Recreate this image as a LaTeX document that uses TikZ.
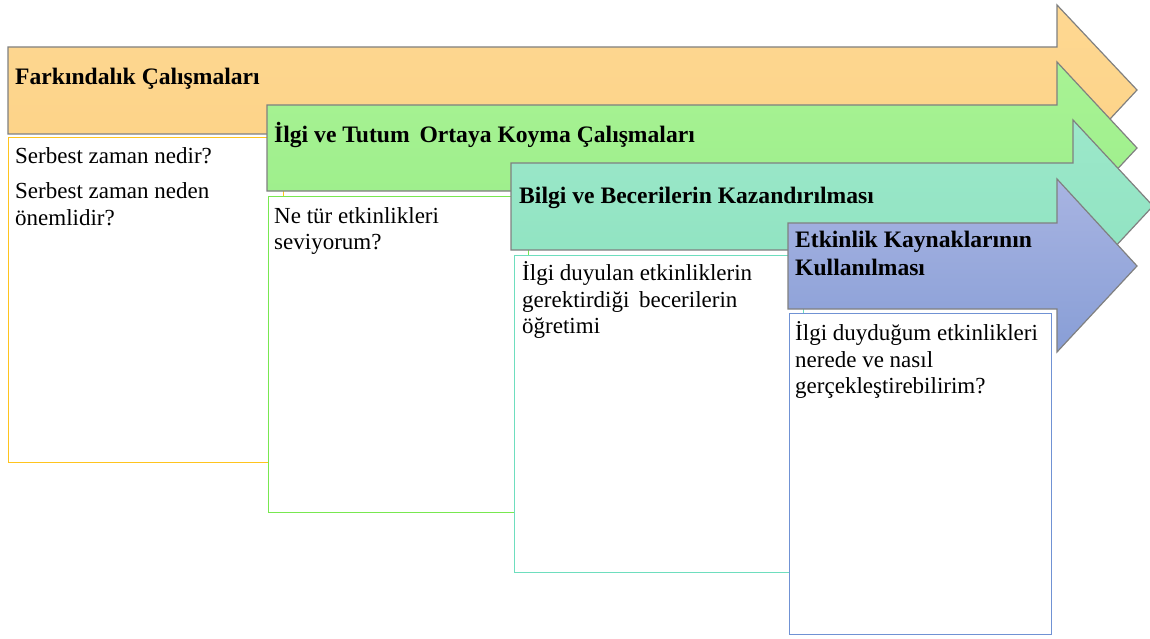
\documentclass[tikz,border=0pt]{standalone}
\usepackage{fontspec}
\setmainfont{Liberation Serif}
\begin{document}
\begin{tikzpicture}[x=1pt,y=-1pt,
  arrowshape/.style={draw=black!50, line width=1.2pt, line join=miter},
  infobox/.style={fill=white, line width=1pt},
  title/.style={anchor=base west, inner sep=0pt, font=\fontsize{23.6}{28}\selectfont\bfseries},
  body/.style={anchor=base west, inner sep=0pt, font=\fontsize{23}{27}\selectfont}]
\useasboundingbox (0,0) rectangle (1150,639);
\definecolor{orA}{RGB}{254,216,146}
\definecolor{orB}{RGB}{252,210,134}
\definecolor{grA}{RGB}{168,243,148}
\definecolor{grB}{RGB}{156,238,138}
\definecolor{tlA}{RGB}{156,232,202}
\definecolor{tlB}{RGB}{142,226,192}
\definecolor{blA}{RGB}{168,180,226}
\definecolor{blB}{RGB}{136,158,214}
\definecolor{bxOr}{RGB}{255,196,30}
\definecolor{bxGr}{RGB}{120,232,80}
\definecolor{bxTl}{RGB}{110,222,190}
\definecolor{bxBl}{RGB}{112,146,212}
% arrow 1
\shade[arrowshape, top color=orA, bottom color=orB]
  (8,47) -- (1057,47) -- (1057,5) -- (1137,90) -- (1057,176) -- (1057,134) -- (8,134) -- cycle;
\node[title] (t1) at (15,85) {Farkındalık Çalışmaları};
\draw[infobox, draw=bxOr] (8,138) rectangle (283,462);
\node[body] (b1a) at (15,164) {Serbest zaman nedir?};
\node[body] (b1b) at (15,198) {Serbest zaman neden};
\node[body] (b1c) at (15,225) {önemlidir?};
% arrow 2
\shade[arrowshape, top color=grA, bottom color=grB]
  (267,105) -- (1057,105) -- (1057,62) -- (1137,148) -- (1057,234) -- (1057,191) -- (267,191) -- cycle;
\node[title] (t2) at (274,143) {İlgi ve Tutum\, Ortaya Koyma Çalışmaları};
\draw[infobox, draw=bxGr] (268,196) rectangle (528,512);
\node[body] (b2a) at (274,223) {Ne tür etkinlikleri};
\node[body] (b2b) at (274,249) {seviyorum?};
% arrow 3
\shade[arrowshape, top color=tlA, bottom color=tlB]
  (511,163) -- (1073,163) -- (1073,120) -- (1153,206) -- (1073,292) -- (1073,250) -- (511,250) -- cycle;
\node[title] (t3) at (519,203) {Bilgi ve Becerilerin Kazandırılması};
\draw[infobox, draw=bxTl] (514,255) rectangle (803,572);
\node[body] (b3a) at (522,280) {İlgi duyulan etkinliklerin};
\node[body] (b3b) at (522,307) {gerektirdiği\, becerilerin};
\node[body] (b3c) at (522,333) {öğretimi};
% arrow 4
\shade[arrowshape, top color=blA, bottom color=blB]
  (788,223) -- (1057,223) -- (1057,179) -- (1137,266) -- (1057,352) -- (1057,309) -- (788,309) -- cycle;
\node[title] (t4a) at (795,247) {Etkinlik Kaynaklarının};
\node[title] (t4b) at (795,275) {Kullanılması};
\draw[infobox, draw=bxBl] (789,313) rectangle (1051,634);
\node[body] (b4a) at (795,340) {İlgi duyduğum etkinlikleri};
\node[body] (b4b) at (795,367) {nerede ve nasıl};
\node[body] (b4c) at (795,393) {gerçekleştirebilirim?};
\end{tikzpicture}
\end{document}
